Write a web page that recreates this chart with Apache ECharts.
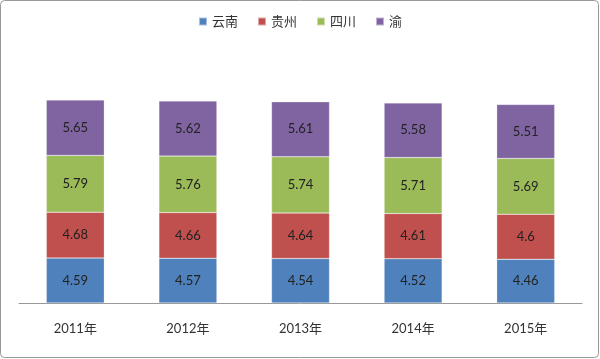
<!DOCTYPE html>
<html><head><meta charset="utf-8">
<script src="https://cdn.jsdelivr.net/npm/echarts@6/dist/echarts.min.js"></script>
<style>html,body{margin:0;padding:0;background:#fff}#c{width:600px;height:359px}</style>
</head><body><div id="c"></div>
<script>
const categories = ['2011年','2012年','2013年','2014年','2015年'];
const seriesNames = ['云南','贵州','四川','渝'];
const yunnan = [4.59, 4.57, 4.54, 4.52, 4.46];
const guizhou = [4.68, 4.66, 4.64, 4.61, 4.6];
const sichuan = [5.79, 5.76, 5.74, 5.71, 5.69];
const yu = [5.65, 5.62, 5.61, 5.58, 5.51];
const colors = ['#4F81BD','#C0504D','#9BBB59','#8064A2'];
const FONT = 'Lato, "Noto Sans CJK SC", sans-serif';
const values = [yunnan, guizhou, sichuan, yu];
const chart = echarts.init(document.getElementById('c'));
chart.setOption({
  animation: false,
  textStyle: {fontFamily: FONT},
  color: colors,
  legend: {
    top: 10, left: 'center', itemWidth: 8, itemHeight: 8, itemGap: 19,
    icon: 'rect',
    textStyle: {fontSize: 13, color: '#333', fontFamily: FONT},
    data: seriesNames
  },
  grid: {left: 19, right: 18, top: 58, bottom: 56},
  xAxis: {
    type: 'category', data: categories,
    axisLine: {lineStyle: {color: '#999'}},
    axisTick: {show: false},
    axisLabel: {fontSize: 13, color: '#333', margin: 19, fontFamily: FONT}
  },
  yAxis: {type: 'value', min: 0, max: 25, show: false, splitLine: {show: false}},
  series: values.map((v, i) => ({
    name: seriesNames[i], type: 'bar', stack: 'total', data: v,
    barWidth: '51.5%',
    itemStyle: {color: colors[i], borderColor: 'rgba(255,255,255,0.5)', borderWidth: 0.5},
    label: {show: true, position: 'inside', color: '#222', fontSize: 13, fontFamily: FONT}
  })),
  graphic: [{
    type: 'rect', shape: {x: 0.5, y: 0.5, width: 598, height: 357, r: 4},
    style: {fill: 'none', stroke: '#999', lineWidth: 1}, silent: true
  }]
});
</script></body></html>
